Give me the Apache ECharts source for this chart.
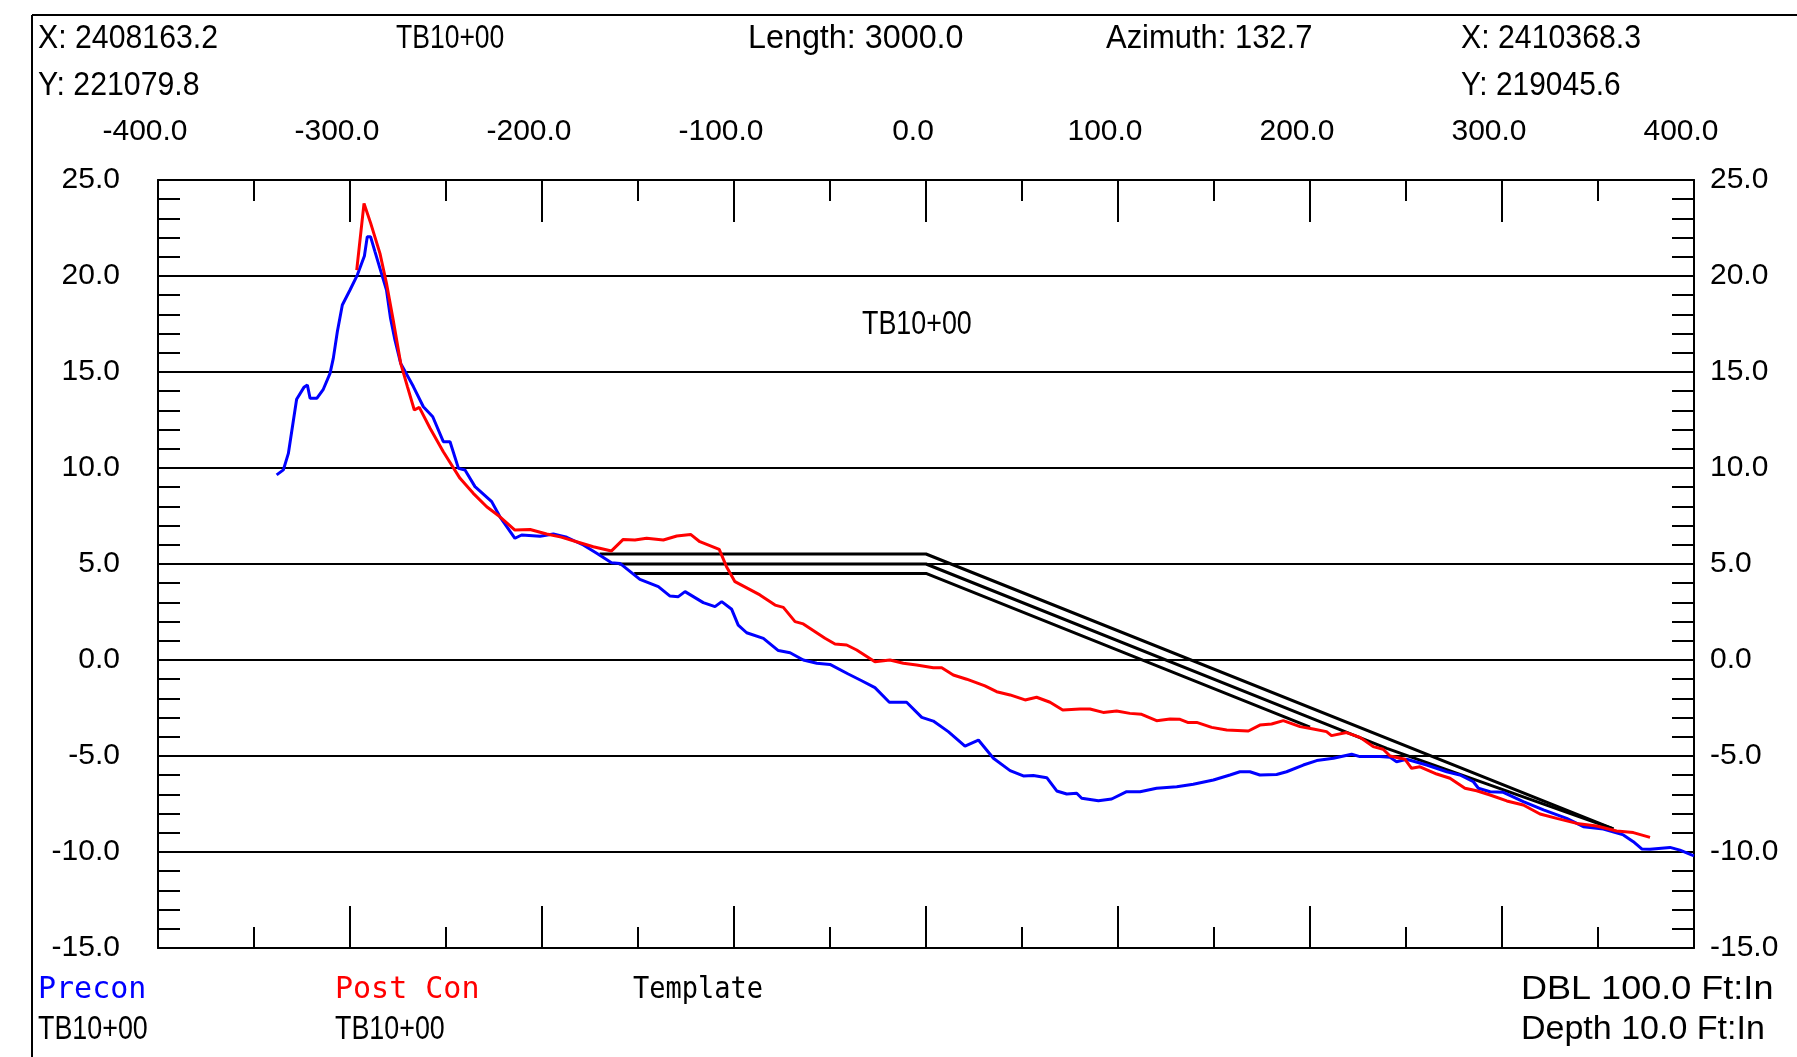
<!DOCTYPE html>
<html><head><meta charset="utf-8">
<script src="https://cdn.jsdelivr.net/npm/echarts@6/dist/echarts.min.js"></script>
<style>html,body{margin:0;padding:0;background:#fff}#c{width:1797px;height:1057px}</style>
</head><body><div id="c"></div>
<script>
// ---- data ----
const preconX = [-338.2,-334.7,-332.1,-327.8,-324.0,-322.2,-320.8,-317.3,-313.9,-310.4,-308.7,-306.6,-304.0,-300.0,-296.2,-292.5,-291.0,-289.3,-287.0,-284.4,-281.0,-278.9,-276.6,-273.6,-267.0,-261.8,-256.9,-251.4,-247.9,-243.5,-240.1,-234.9,-226.2,-221.9,-214.1,-210.6,-201.0,-194.1,-187.1,-178.5,-171.5,-163.8,-159.4,-149.0,-139.4,-133.3,-129.0,-125.5,-116.0,-109.9,-106.4,-101.2,-97.8,-93.4,-84.7,-76.9,-70.8,-63.9,-56.9,-50.0,-40.5,-33.5,-26.6,-19.1,-10.1,-2.2,3.8,11.6,20.3,27.3,35.1,43.8,50.7,55.9,62.9,68.1,73.3,78.5,81.1,89.8,96.7,104.5,111.5,120.1,130.6,139.2,149.7,158.3,163.5,168.7,173.9,182.6,187.8,196.5,203.5,212.2,221.7,226.0,236.4,241.7,245.1,250.3,260.8,271.2,278.1,285.1,287.7,293.8,300.7,311.1,321.6,333.7,342.4,352.8,363.2,368.4,372.8,377.1,387.5,392.7,400.0];
const preconY = [9.64,9.9,10.76,13.58,14.2,14.32,13.63,13.63,14.1,14.93,15.71,17.1,18.49,19.27,20.05,21.04,22.05,22.05,21.27,20.4,19.27,17.8,16.67,15.45,14.24,13.19,12.67,11.37,11.37,9.98,9.9,9.03,8.25,7.46,6.34,6.51,6.44,6.56,6.39,5.99,5.56,5.07,5.03,4.2,3.82,3.33,3.3,3.56,2.99,2.78,3.04,2.64,1.82,1.42,1.13,0.49,0.38,0.0,-0.17,-0.23,-0.73,-1.08,-1.44,-2.2,-2.2,-2.99,-3.18,-3.73,-4.48,-4.17,-5.12,-5.76,-6.04,-6.02,-6.13,-6.82,-6.98,-6.94,-7.2,-7.33,-7.24,-6.86,-6.86,-6.68,-6.6,-6.47,-6.25,-5.99,-5.82,-5.82,-5.99,-5.96,-5.82,-5.47,-5.24,-5.12,-4.91,-5.03,-5.03,-5.07,-5.3,-5.17,-5.47,-5.82,-5.99,-6.34,-6.68,-6.86,-6.89,-7.38,-7.81,-8.25,-8.68,-8.8,-9.11,-9.46,-9.84,-9.86,-9.76,-9.9,-10.2];
const postConX = [-296.5,-292.7,-289.2,-284.4,-281.0,-277.5,-273.6,-270.1,-266.5,-263.9,-258.3,-251.4,-242.7,-235.8,-228.8,-221.9,-214.1,-206.2,-197.6,-190.0,-182.0,-173.3,-163.8,-157.7,-151.6,-145.5,-136.8,-129.8,-122.6,-117.8,-107.7,-103.9,-99.5,-86.5,-78.6,-74.3,-68.2,-63.9,-52.6,-47.4,-41.3,-36.1,-26.6,-18.8,-11.8,-4.9,3.8,8.2,14.2,21.2,30.7,36.8,43.8,51.6,57.6,64.6,71.2,80.2,85.4,92.3,99.3,106.2,112.3,120.1,127.1,132.3,136.6,141.0,148.8,156.6,167.9,173.9,180.0,186.1,194.8,201.7,208.6,211.2,219.0,226.0,232.9,238.1,241.7,249.5,252.9,257.3,266.0,272.9,280.7,286.8,293.8,302.5,311.1,319.8,328.5,338.9,349.3,359.7,368.4,377.1];
const postConY = [20.31,23.78,22.74,21.18,19.62,17.71,15.45,14.24,13.02,13.16,12.07,10.85,9.46,8.68,7.98,7.46,6.77,6.8,6.56,6.4,6.16,5.9,5.68,6.28,6.25,6.34,6.25,6.46,6.54,6.16,5.76,4.86,4.08,3.39,2.86,2.74,2.0,1.88,1.13,0.83,0.78,0.52,-0.09,0.0,-0.17,-0.26,-0.4,-0.4,-0.78,-1.0,-1.35,-1.65,-1.82,-2.08,-1.94,-2.2,-2.6,-2.55,-2.55,-2.73,-2.66,-2.78,-2.83,-3.16,-3.07,-3.09,-3.26,-3.25,-3.51,-3.65,-3.7,-3.39,-3.33,-3.16,-3.47,-3.59,-3.73,-3.94,-3.78,-4.03,-4.51,-4.65,-5.0,-5.17,-5.64,-5.56,-5.94,-6.16,-6.68,-6.81,-7.03,-7.34,-7.55,-8.02,-8.25,-8.51,-8.65,-8.91,-8.99,-9.24];
const templateTopX = [-170, 0, 358];
const templateTopY = [5.52, 5.52, -8.8];
const templateMidX = [-160, 0, 240, 358];
const templateMidY = [5.0, 5.0, -4.6, -8.8];
const templateBotX = [-152, 0, 200];
const templateBotY = [4.51, 4.51, -3.5];
const xRange = [-400, 400];
const yRange = [-15, 25];
const headerRow1 = ['X: 2408163.2', 'TB10+00', 'Length: 3000.0', 'Azimuth: 132.7', 'X: 2410368.3'];
const headerRow2 = ['Y: 221079.8', 'Y: 219045.6'];
const plotTitle = 'TB10+00';
const legendNames = ['Precon', 'Post Con', 'Template'];
const legendSub = ['TB10+00', 'TB10+00'];
const scaleNotes = ['DBL 100.0 Ft:In', 'Depth 10.0 Ft:In'];

// ---- chart ----
const FONT = '"Liberation Sans",Arial,sans-serif';
const MONO = '"DejaVu Sans Mono","Liberation Mono",monospace';
const FS = 34;
const AXFS = 30;
const zip = (a, b) => a.map((v, i) => [v, b[i]]);
const fmt = v => v.toFixed(1);
const black = '#000';

function xAx(pos, interval, len, showLine, showLabel) {
  return {
    type: 'value', position: pos, min: xRange[0], max: xRange[1], interval: interval,
    axisLine: {show: showLine, onZero: false, lineStyle: {color: black, width: 2}},
    axisTick: {show: true, inside: true, length: len, lineStyle: {color: black, width: 2}},
    axisLabel: {show: showLabel, formatter: fmt, color: black, fontFamily: FONT, fontSize: AXFS,
      margin: 33, padding: [0, 26, 0, 0], showMinLabel: true, showMaxLabel: true},
    splitLine: {show: false}
  };
}
function yAx(pos, split, margin) {
  return {
    type: 'value', position: pos, min: yRange[0], max: yRange[1], interval: 5,
    axisLine: {show: true, onZero: false, lineStyle: {color: black, width: 2}},
    axisTick: {show: true, inside: true, length: 22, lineStyle: {color: black, width: 2}},
    minorTick: {show: true, splitNumber: 5, length: 22, lineStyle: {color: black, width: 2}},
    axisLabel: {show: true, formatter: fmt, color: black, fontFamily: FONT, fontSize: AXFS, margin: margin,
      showMinLabel: true, showMaxLabel: true},
    splitLine: {show: split, lineStyle: {color: black, width: 2}}
  };
}
function txt(x, y, text, sx, color, font, size) {
  return {type: 'text', x: x, y: y, scaleX: sx, silent: true,
    style: {text: text, fill: color || black, fontFamily: font || FONT, fontSize: size || FS,
      align: 'left', verticalAlign: 'middle'}};
}
function lineSeries(name, xs, ys, color, z) {
  return {type: 'line', name: name, data: zip(xs, ys), xAxisIndex: 0, yAxisIndex: 0,
    symbol: 'none', showSymbol: false, z: z, lineStyle: {color: color, width: 3}, silent: true};
}

const chart = echarts.init(document.getElementById('c'), null, {renderer: 'canvas'});
chart.setOption({
  animation: false,
  backgroundColor: '#fff',
  grid: {left: 158, top: 180, width: 1536, height: 768, containLabel: false},
  xAxis: [
    xAx('bottom', 50, 21, true, false),
    xAx('bottom', 100, 42, false, false),
    xAx('top', 50, 21, true, false),
    xAx('top', 100, 42, false, true)
  ],
  yAxis: [yAx('left', true, 38), yAx('right', false, 16)],
  series: [
    lineSeries('Template', templateTopX, templateTopY, black, 2),
    lineSeries('Template2', templateMidX, templateMidY, black, 2),
    lineSeries('Template3', templateBotX, templateBotY, black, 2),
    lineSeries('Precon', preconX, preconY, '#0000ff', 3),
    lineSeries('Post Con', postConX, postConY, '#ff0000', 4)
  ],
  graphic: [
    {type: 'line', shape: {x1: 32, y1: 15, x2: 1797, y2: 15}, style: {stroke: black, lineWidth: 2}, silent: true},
    {type: 'line', shape: {x1: 32, y1: 15, x2: 32, y2: 1057}, style: {stroke: black, lineWidth: 2}, silent: true},
    txt(38, 39, headerRow1[0], 0.89),
    txt(396, 39, headerRow1[1], 0.78),
    txt(748, 39, headerRow1[2], 0.95),
    txt(1106, 39, headerRow1[3], 0.91),
    txt(1461, 39, headerRow1[4], 0.89),
    txt(38, 86, headerRow2[0], 0.89),
    txt(1461, 86, headerRow2[1], 0.88),
    txt(862, 325, plotTitle, 0.79),
    txt(38, 990, legendNames[0], 1, '#0000ff', MONO, 30),
    txt(335, 990, legendNames[1], 1, '#ff0000', MONO, 30),
    txt(633, 990, legendNames[2], 0.9, black, MONO, 30),
    txt(38, 1030, legendSub[0], 0.79),
    txt(335, 1030, legendSub[1], 0.79),
    txt(1521, 990, scaleNotes[0], 1.06),
    txt(1521, 1030, scaleNotes[1], 1.0)
  ]
});
</script></body></html>
